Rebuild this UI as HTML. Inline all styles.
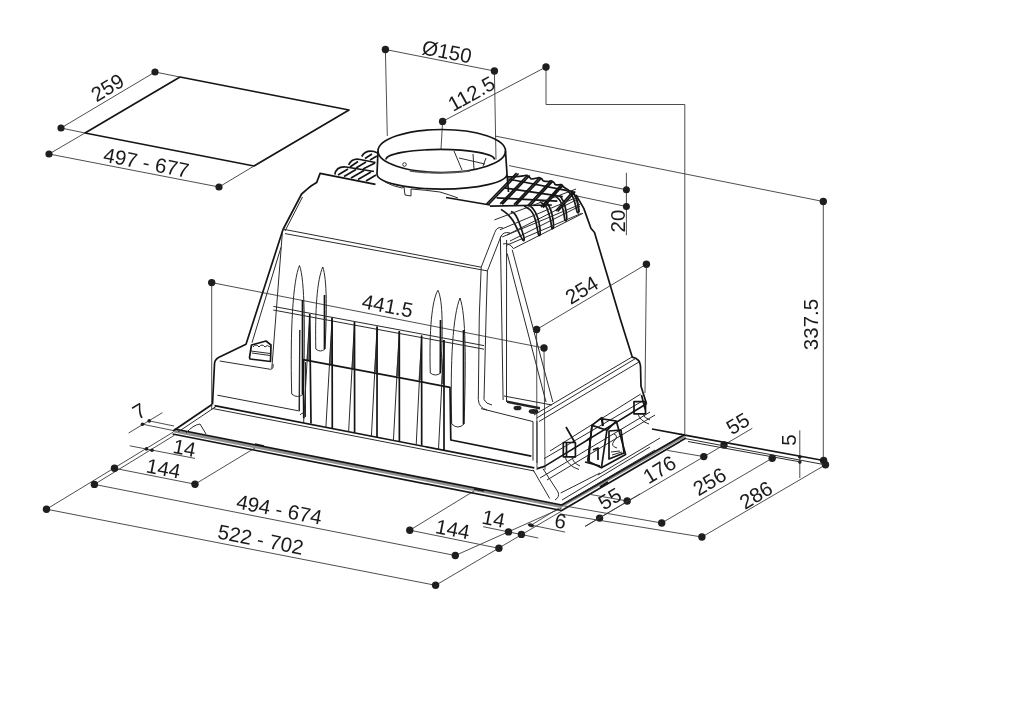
<!DOCTYPE html>
<html><head><meta charset="utf-8">
<style>
html,body{margin:0;padding:0;background:#fff;width:1024px;height:725px;overflow:hidden}
svg{display:block}
text{font-family:"Liberation Sans",sans-serif;fill:#1b1b1b;font-size:20.5px}
.d{stroke:#3a3a3a;stroke-width:0.9;fill:none}
.k{stroke:#151515;stroke-width:1.7;fill:none;stroke-linejoin:round}
.t{stroke:#2a2a2a;stroke-width:1;fill:none}
.dot{fill:#1e1e1e}
</style></head><body>
<svg width="1024" height="725" viewBox="0 0 1024 725">
<g id="anno" style="will-change:transform">
<!-- cutout panel -->
<path class="k" d="M180,77 L349,110 L254,166 L85,133 Z"/>
<path class="d" d="M155,72 L61,128 M155,72 L180,77 M61,128 L85,133 M49,154 L219,187 M49,154 L85,133 M219,187 L254,166"/>
<circle class="dot" cx="155" cy="72" r="3.6"/><circle class="dot" cx="61" cy="128" r="3.6"/>
<circle class="dot" cx="49" cy="154" r="3.6"/><circle class="dot" cx="219" cy="187" r="3.6"/>
<text transform="translate(107.4,87.3) rotate(-31)" text-anchor="middle" dy="7.3">259</text>
<text transform="translate(146.4,162.5) rotate(11)" text-anchor="middle" dy="7.3">497 - 677</text>

<!-- diam 150 -->
<path class="d" d="M385.4,49.5 L494.4,71 M385.4,49.5 L387.3,136 M494.4,71 L496,159.5"/>
<circle class="dot" cx="385.4" cy="49.5" r="3.7"/><circle class="dot" cx="494.4" cy="71" r="3.7"/>
<text transform="translate(447,51.5) rotate(11)" text-anchor="middle" dy="7.3">Ø150</text>
<!-- 112.5 -->
<path class="d" d="M546,67 L442.6,121.4 M442.6,121.4 L441,149 M546,67 L546,104.5 L684.8,104.5 L684.8,435"/>
<circle class="dot" cx="546" cy="67" r="3.7"/><circle class="dot" cx="442.6" cy="121.4" r="3.7"/>
<text transform="translate(471.3,93.5) rotate(-29)" text-anchor="middle" dy="7.3">112.5</text>
<!-- 337.5 -->
<path class="d" d="M495,136 L823.3,201.5 L823.3,460.5"/>
<circle class="dot" cx="823.3" cy="201.5" r="3.7"/>
<text transform="translate(811,324.5) rotate(-90)" text-anchor="middle" dy="7.3">337.5</text>
<!-- 20 -->
<path class="d" d="M626.4,172.8 L626.4,235.2 M509,165.6 L626.4,189.8 M575,195.6 L626.4,206.5"/>
<circle class="dot" cx="626.4" cy="189.8" r="3.5"/><circle class="dot" cx="626.4" cy="206.5" r="3.5"/>
<text transform="translate(617.6,221) rotate(-90)" text-anchor="middle" dy="7.3">20</text>
<!-- 254 -->
<path class="d" d="M646.4,264.2 L536.6,329.5 M646.4,264.2 L645,393 M536.6,329.5 L537,470"/>
<circle class="dot" cx="646.4" cy="264.2" r="3.7"/><circle class="dot" cx="536.6" cy="329.5" r="3.7"/>
<text transform="translate(581.6,289.8) rotate(-31)" text-anchor="middle" dy="7.3">254</text>
<!-- 441.5 -->
<path class="d" d="M211.7,282.6 L544,348 M211.7,282.6 L211.7,410 M544,348 L545,470"/>
<circle class="dot" cx="211.7" cy="282.6" r="3.7"/><circle class="dot" cx="544" cy="348" r="3.7"/>
<text transform="translate(387.6,305.7) rotate(11)" text-anchor="middle" dy="7.3">441.5</text>

<!-- right bottom dims -->
<path class="d" d="M752.3,428.3 L585.1,526.4 M703.8,456.6 L667.3,450.4 M661.7,523 L772.2,458.2 M701.9,537 L825.5,464.8 M563.9,505.8 L661.7,523 M560,513.9 L701.9,537 M627.2,501 L591,494.6 M799.8,430.3 L799.8,478"/>
<circle class="dot" cx="724" cy="444.9" r="3.7"/><circle class="dot" cx="703.8" cy="456.6" r="3.7"/>
<circle class="dot" cx="772.2" cy="458.2" r="3.7"/><circle class="dot" cx="661.7" cy="523" r="3.7"/>
<circle class="dot" cx="701.9" cy="537" r="3.7"/><circle class="dot" cx="823.6" cy="460.5" r="3.7"/>
<circle class="dot" cx="825.5" cy="464.8" r="3.7"/><circle class="dot" cx="627.2" cy="501" r="3.7"/>
<circle class="dot" cx="599.6" cy="518.1" r="3.7"/>
<circle class="dot" cx="799.8" cy="457" r="1.8"/><circle class="dot" cx="799.8" cy="462.1" r="1.8"/>
<text transform="translate(788.4,440) rotate(-90)" text-anchor="middle" dy="7.3">5</text>
<text transform="translate(737.7,423.4) rotate(-31)" text-anchor="middle" dy="7.3">55</text>
<text transform="translate(659.4,469.5) rotate(-31)" text-anchor="middle" dy="7.3">176</text>
<text transform="translate(709.5,481.5) rotate(-31)" text-anchor="middle" dy="7.3">256</text>
<text transform="translate(755.8,494.8) rotate(-31)" text-anchor="middle" dy="7.3">286</text>

<!-- bottom left dims -->
<path class="d" d="M46.5,509.2 L173.4,432 M94.4,484.4 L174.5,435.2 M114.5,468.3 L195,484.2 M195,484.2 L259,445.5 M128.6,433 L162.4,412.7 M129.7,445.8 L195,458.4 M142.5,424.2 L174.5,430.8 M149.2,420.9 L174,426 M46.5,509.2 L435.6,585.3 M94.4,484.4 L455.3,555.5"/>
<circle class="dot" cx="46.5" cy="509.2" r="3.7"/><circle class="dot" cx="94.4" cy="484.4" r="3.7"/>
<circle class="dot" cx="114.5" cy="468.3" r="3.7"/><circle class="dot" cx="195" cy="484.2" r="3.7"/>
<circle class="dot" cx="146.5" cy="448.9" r="1.8"/><circle class="dot" cx="152" cy="450.2" r="1.8"/>
<circle class="dot" cx="142.5" cy="424.2" r="1.8"/><circle class="dot" cx="149.2" cy="420.9" r="1.8"/>
<text transform="translate(139.2,411) rotate(-31)" text-anchor="middle" dy="7.3">7</text>
<text transform="translate(184.5,447.8) rotate(11)" text-anchor="middle" dy="7.3">14</text>
<text transform="translate(163.5,468.3) rotate(11)" text-anchor="middle" dy="7.3">144</text>
<text transform="translate(279.3,509.3) rotate(11)" text-anchor="middle" dy="7.3">494 - 674</text>
<text transform="translate(260.7,539.4) rotate(11)" text-anchor="middle" dy="7.3">522 - 702</text>

<!-- bottom middle dims -->
<path class="d" d="M409.8,530.2 L475,490.4 M409.8,530.2 L498.9,548.3 M455.3,555.5 L561.7,508 M435.6,585.3 L561.7,511 M483.2,526.7 L538.3,538 M527.7,524.4 L565.2,532.1 M531,525.3 L559,508 M585.1,526.4 L640,493.9"/>
<circle class="dot" cx="409.8" cy="530.2" r="3.7"/><circle class="dot" cx="455.3" cy="555.5" r="3.7"/>
<circle class="dot" cx="498.9" cy="548.3" r="3.7"/><circle class="dot" cx="435.6" cy="585.3" r="3.7"/>
<circle class="dot" cx="508.5" cy="531.9" r="3.7"/><ellipse class="dot" cx="531" cy="525.3" rx="3" ry="1.8" transform="rotate(15 531 525.3)"/><circle class="dot" cx="521.4" cy="534.4" r="3.7"/>
<text transform="translate(452.7,529) rotate(11)" text-anchor="middle" dy="7.3">144</text>
<text transform="translate(493.7,518.5) rotate(11)" text-anchor="middle" dy="7.3">14</text>
<text transform="translate(560.5,520.9) rotate(11)" text-anchor="middle" dy="7.3">6</text>
<text transform="translate(609.7,498.6) rotate(-31)" text-anchor="middle" dy="7.3">55</text>
</g>

<g id="hood">
<!-- ===== FRAME ===== -->
<path fill="#8f8f8f" d="M174.7,429 L561.7,505 L684.5,434 L685.5,437 L561,508 L174,432.5 Z"/>
<path class="k" stroke-width="2" d="M174.7,429 L561.7,505 L684.5,434.5"/>
<path class="k" stroke-width="1.3" d="M172.6,434 L561.7,510.5 L686,438"/>
<path class="k" stroke-width="1.6" d="M173,431 L212,404.5"/><path class="t" stroke-width="1.1" d="M178,432 L216,406.5 M186,433 Q193,425 200,424 L206,434"/>
<path class="k" stroke-width="1.6" d="M684.9,435.2 L823.6,460.5 M652,429 L685,435"/>
<path class="t" d="M684.9,438.5 L823.6,464.5 M688,441.5 L798,461.5"/>
<path class="t" d="M533.1,469.8 L549.7,498.5 M543,468.7 L558,492 Q560,497 555,500 M560.7,493 L600,473 M562,500 L650,447 M565,503 L655,450"/>
<!-- frame tabs -->
<path class="k" stroke-width="1.2" d="M255,444 L264,446 M474,489 L484,491 M600,487 L608,482"/>
<!-- right frame surface lines -->
<path class="t" d="M540,478 L650,412 M547,480 L655,415 M598,475 L660,438"/>

<!-- ===== HOOD TOP & LEFT SILHOUETTE ===== -->
<path class="k" stroke-width="1.8" d="M375.5,184.3 L320.1,173.4 L316.6,182.6 L311,186 L307.8,188.7 L301.6,194 L283,229.5 L246,344.2 L218.5,357.5 Q214.5,360 214.5,364 L212.5,404.5"/>
<path class="t" d="M302.5,197 L285,231 M281,247.3 L252,342.7 M282.4,232 L271.8,368.5"/>
<path class="k" stroke-width="1.8" d="M446,197.5 L490,205"/>
<!-- top band -->
<path class="t" d="M283.2,229.2 L481.2,267.2 L494.8,232.4 M285,233.6 L487.4,270.9 L501,236.2"/>
<!-- pillar -->
<path class="t" d="M481.2,267.2 L479.3,315 L478.3,399.6 M487.4,270.9 L486.1,315 L484,399.6 M500.4,237.4 L503.1,400 M506.6,240 L506.5,402"/>
<path class="t" d="M494.8,232.4 Q497,226 503,228 M500.4,237.4 Q503,231 510,233"/>
<path class="t" d="M504,396 L552,405"/>
<!-- right face left edge diagonals -->
<path class="t" d="M507.2,253.5 L546,402 M512.2,249.8 L552.8,402"/>

<!-- ===== LEFT BASE BLOCK ===== -->
<path class="t" d="M219.7,361 L270.4,369.3 Q274,369 273,364 M217.4,395.2 L299.5,411 L299.9,330"/>
<path class="k" stroke-width="1.4" d="M214.5,405.6 L534.3,467.9"/>
<path class="t" d="M212.5,408.5 L534.3,471"/>
<!-- slot piece -->
<path class="k" stroke-width="1.3" d="M249.5,357.5 L251.5,345 L266,341 L271,345 L270.5,361.5 L250,359 Z"/>
<path class="t" d="M251,351 L270,353.5 M253,347 Q256,343 259,347 Q262,343 265,347 Q267,344 270,347 M252,353 L270,355.5"/>

<!-- ===== FRONT FACE ===== -->
<!-- loops -->
<path class="t" stroke-width="1.1" d="M291.7,394 C290,330 293,280 299.5,265.5 C305,280 305,330 303.4,394 Q297.5,399 291.7,394 Z"/>
<path class="t" stroke-width="1.1" d="M315.8,349 C315,310 317,280 322.8,267 C327,280 327,310 325,349 Q320.5,353 315.8,349 Z"/>
<path class="t" stroke-width="1.1" d="M430.3,373 C429,330 432,300 437.9,290.3 C443,300 443,330 440.7,373 Q435.5,377 430.3,373 Z"/>
<path class="t" stroke-width="1.1" d="M451.7,424 C450,360 453,315 460,298 C466,315 466,360 464.1,424 Q458,430 451.7,424 Z"/>
<path class="k" stroke-width="1.3" d="M302.5,300 L302.5,394 M324.5,295 L324.5,349 M440.5,320 L440.3,373 M463.5,330 L463.5,424"/>
<!-- band double line -->
<path class="t" d="M273.3,306.4 L484,345.6 M273.3,310 L484,349.2"/>
<!-- spikes -->
<g>
<path fill="#6a6a6a" d="M309.7,314 L306.5,360 L311,360 Z M332.1,317.6 L329,364 L332.3,364 Z M354.5,322 L351.5,368 L354.8,368 Z M377.1,326.4 L374,372 L377.3,372 Z M399.3,331 L396,376 L399.5,376 Z M421.6,335.5 L418.5,380 L421.8,380 Z M444,340 L441,384 L444.2,384 Z"/>
<path class="t" stroke-width="1" d="M309.7,314.0 L303.6,423.0 M332.1,317.6 L325.9,427.5 M354.5,322.0 L348.6,432.0 M377.1,326.4 L371.4,436.5 M399.3,331.0 L393.4,441.0 M421.6,335.5 L416.2,445.0 M444.0,340.0 L438.5,449.5"/>
<path class="k" stroke-width="1.25" d="M309.7,314.0 L311.0,423.5 M332.1,317.6 L332.3,428.0 M354.5,322.0 L354.6,432.5 M377.1,326.4 L377.0,437.0 M399.3,331.0 L399.4,441.5 M421.6,335.5 L421.7,445.5 M444.0,340.0 L444.0,450.0"/>
</g>
<!-- lower grille box -->
<path class="k" stroke-width="1.25" d="M303.8,418.3 L303.1,359.7 L450,387.3 L450.8,440 L531.3,456.2"/>
<path class="t" d="M305.5,362 L305.5,417 M300,415 Q303,411 306,416"/>
<path class="t" d="M299.7,330 L299,410"/>

<!-- ===== RIGHT FACE / RIGHT BASE ===== -->
<path class="k" stroke-width="1.8" d="M576,195 L583.8,208.4 L590.9,228.3 L594.5,232.5 L620.6,320 L632.3,357.2 Q640,359 640.5,366 L641,386.3 L646.5,403.7"/>
<path class="t" d="M513.4,248.6 Q509,242 503,244 M513.4,248.6 L583,213.3 M510,241 L580,206 M507,235 L576,200"/>
<!-- right base top edges -->
<path class="t" d="M536.8,418 L635.9,358.3 M534,415 L632,357 M539,421.5 L639,362 M481,408.6 L533,421.6 L533,460.6 M537,421 L537,463"/>
<path class="t" d="M478.3,399.6 Q479,408 487,410 M484,399.6 Q486,404 492,405"/>
<path class="k" stroke-width="1.5" d="M537.2,468.6 L544.5,466.4 L646.5,403.7"/>
<path class="t" d="M550,451 L640.7,394 M544,458.7 L642.5,401"/>
<!-- control panel marks -->
<path fill="#222" d="M507,400.5 L540,407 L540,409.5 L507,403 Z"/>
<ellipse cx="517.5" cy="408" rx="4" ry="2.3" fill="#222"/><ellipse cx="533.5" cy="411.5" rx="4.8" ry="2.4" fill="#222"/>
<!-- clips -->
<path class="k" stroke-width="1.2" d="M566,427 L574.9,442.5 M563.3,442.5 L575.4,442.5 L575.4,456.8 L563.3,456.8 Z M566.5,443 L566.5,456"/>
<path class="t" d="M565,457 Q568,466 579,469.5 M572,457 Q573,463 580,466"/>
<path class="k" stroke-width="1.2" d="M641.5,395 L645.5,410.5 M634,401.6 L645.5,401.6 L645.5,413.8 L634,413.8 Z"/>
<path class="t" d="M638,414 Q640,421 649,424 M643,414 Q644,418 650,420"/>
<!-- bracket -->
<path fill="#fff" class="k" stroke-width="1.4" d="M592,425.4 L600.3,418.7 L616.3,421 L625.6,454.6 L601.4,467.8 L588,461.2 Z"/>
<path class="k" stroke-width="1.4" d="M592,425.4 L606.9,430.3 L616.3,421 M606.9,430.3 L601.4,467.8 M592,425.4 L588,461.2"/>
<path class="k" stroke-width="1.3" d="M609,431 L621,430 L624,453 L609,459 Z"/>
<path class="t" stroke-width="1.1" d="M614,434 Q619,436 614,441 Q610,446 617,448 M611,452 L620,451 M612,455 L622,452"/>
<path stroke="#111" stroke-width="2.2" d="M601.5,417 L603,426"/>
<path class="k" stroke-width="1.1" d="M587,440 L590,438 L589,462 M593,450 L598,448 L598,460 M585,462 L600,466"/>
<!-- ===== COLLAR ===== -->
<ellipse class="k" stroke-width="2" cx="441.75" cy="151" rx="63.75" ry="21.5"/>
<path class="k" stroke-width="1.9" d="M386,159.5 A54,10 0 0 1 494.5,159.5"/>
<path class="k" stroke-width="1.8" d="M378,151 L377,174 A64.5,15 0 0 0 507,174 L505.5,151 M507,174 L508.5,192"/>
<path class="t" d="M385,182 Q392,186 402,188 L404,187 L405,195 L411,196 L411,189 Q425,190 440,192 Q450,195 458,198"/>
<path class="t" stroke-width="1.1" d="M454,151 L462,170 M459,158 L485,164 M473,154 L474,169 M486,158 L483,166"/>
<circle cx="404.5" cy="164.5" r="1.8" fill="none" stroke="#333" stroke-width="1"/>
<path d="M410,171 Q440,175 470,171" stroke="#555" stroke-width="1.6" fill="none"/>

<!-- ===== LEFT GRILLE ===== -->
<g class="k" stroke-width="1.5">
<path d="M334.8,174.5 C336,168 341,166.5 346,167 L374,171.5"/>
<path d="M348.6,164.8 C351,160 355,158.5 360,159.5 L375.5,162.5"/>
<path d="M361.7,156.5 C364,152 368,150.5 374,151.5 L377.6,153"/>
</g>
<path class="k" stroke-width="1.2" d="M338,175 L348,169 M344,176.5 L356,169.5 M351,178 L364,170.5 M358,179.5 L371,172 M366,181 L376,175 M350,167 L358,161.5 M356,168 L366,162 M363,169 L375,163 M365,158.5 L372,154 M370,160 L377,156"/>

<!-- ===== RIGHT GRILLE ===== -->
<path class="k" stroke-width="1.6" d="M507.7,176.8 C508.9,176.8 512.8,176.8 515.4,176.6 C518.0,176.5 521.3,176.2 523.1,175.9 C525.0,175.7 525.3,175.0 526.4,175.3 C527.5,175.5 528.9,176.8 529.7,177.4 C530.6,178.0 530.3,178.9 531.4,179.0 C532.5,179.2 535.1,178.4 536.4,178.2 C537.6,177.9 538.2,177.6 539.1,177.7 C540.0,177.9 541.1,178.5 541.9,179.0 C542.6,179.6 542.4,180.6 543.5,181.0 C544.6,181.4 547.2,181.5 548.5,181.5 C549.8,181.4 550.3,180.6 551.3,180.8 C552.2,181.0 553.3,181.9 554.0,182.6 C554.7,183.2 554.5,184.2 555.3,184.6 C556.2,184.9 558.0,184.8 559.0,184.8 C560.0,184.8 560.7,184.2 561.5,184.6 C562.3,184.9 562.6,186.1 563.7,187.0 C564.9,187.9 566.9,189.2 568.4,190.1 C569.8,191.0 571.1,191.3 572.2,192.3 C573.4,193.3 574.4,194.7 575.2,196.1 C576.0,197.6 576.6,198.4 577.2,201.1 C577.8,203.8 578.6,210.3 578.9,212.2"/>
<path class="k" stroke-width="1.0" d="M508.2,179.0 L567.3,190.6"/>
<path class="k" stroke-width="1.1" d="M516.5,173.0 L486.5,204.0 M518.5,173.5 L488.5,204.5 M527.7,175.0 L500.2,203.8 M529.7,175.5 L502.2,204.3 M539.0,178.0 L514.0,204.6 M541.0,178.5 L516.0,205.1 M550.4,181.1 L527.9,205.5 M552.4,181.6 L529.9,206.0 M561.0,184.9 L541.0,207.1 M563.0,185.4 L543.0,207.6 M573.2,191.0 L555.7,211.0 M575.2,191.5 L557.7,211.5"/>
<path class="k" stroke-width="1.0" d="M504.3,187.9 L562.8,196.7"/>
<path class="k" stroke-width="1.0" d="M496.6,197.8 L557.3,201.1"/>
<path class="k" stroke-width="1.0" d="M490.0,206.1 L551.8,205.0"/>
<path class="k" stroke-width="1.5" d="M501.0,209.4 C502.1,210.2 505.6,212.4 507.7,214.4 C509.7,216.3 511.5,218.4 513.2,221.0 C514.8,223.6 516.0,226.7 517.6,229.8 C519.2,232.9 521.5,238.3 522.6,239.7 C523.7,241.2 524.5,240.7 524.2,238.6 C523.9,236.6 522.0,230.9 520.9,227.6 C519.8,224.3 518.7,221.2 517.6,218.8 C516.5,216.4 515.4,214.4 514.3,213.3 C513.2,212.1 511.5,211.9 511.0,211.6"/>
<path class="k" stroke-width="1.5" d="M524.2,206.1 C525.3,206.8 529.1,208.6 530.8,210.5 C532.6,212.4 533.7,215.0 534.7,217.7 C535.7,220.3 536.3,223.6 536.9,226.5 C537.6,229.4 538.0,233.6 538.6,234.8 C539.1,236.0 540.1,235.6 540.2,233.7 C540.3,231.7 539.8,226.4 539.1,223.2 C538.5,220.0 537.4,216.7 536.4,214.4 C535.3,212.0 534.0,210.1 533.0,208.8 C532.1,207.6 531.2,207.0 530.8,206.6"/>
<path class="k" stroke-width="1.5" d="M539.7,201.7 C540.7,202.4 544.2,204.0 545.7,206.1 C547.3,208.2 548.2,211.9 549.1,214.4 C549.9,216.8 550.2,218.7 550.7,221.0 C551.2,223.3 551.4,227.1 551.8,228.2 C552.3,229.2 553.3,228.6 553.5,227.1 C553.6,225.5 553.4,221.6 552.9,218.8 C552.5,215.9 551.6,212.5 550.7,209.9 C549.8,207.4 548.3,204.7 547.4,203.3 C546.5,201.9 545.6,201.9 545.2,201.7"/>
<path class="k" stroke-width="1.5" d="M554.6,195.6 C555.5,196.4 558.7,198.4 560.1,200.6 C561.5,202.8 562.2,206.5 562.8,208.8 C563.5,211.1 563.6,212.4 564.0,214.4 C564.3,216.3 564.6,219.6 565.1,220.4 C565.5,221.3 566.5,220.7 566.7,219.3 C566.9,217.9 566.5,214.6 566.2,212.2 C565.8,209.7 565.2,206.7 564.5,204.4 C563.8,202.1 562.6,199.7 561.7,198.4 C560.9,197.0 559.9,196.5 559.5,196.1"/>
<path class="k" stroke-width="1.5" d="M567.3,190.6 C568.1,191.5 570.9,193.5 572.2,195.6 C573.5,197.7 574.2,200.6 575.0,203.3 C575.8,206.1 576.6,210.9 577.2,212.2 C577.8,213.4 578.9,212.9 578.9,211.0 C578.9,209.2 578.0,204.1 577.2,201.1 C576.4,198.2 574.8,195.1 573.9,193.4 C573.0,191.6 572.0,191.1 571.7,190.6"/>
<path class="t" d="M499.9,229.8 L578.3,196.7"/>
<path class="t" d="M502.1,237.0 L580.0,204.4"/>
<path class="t" d="M506.6,245.3 L581.6,213.3"/>
<path class="t" d="M494.4,219.9 L576.1,189.0"/>
</g>
</svg>
</body></html>
